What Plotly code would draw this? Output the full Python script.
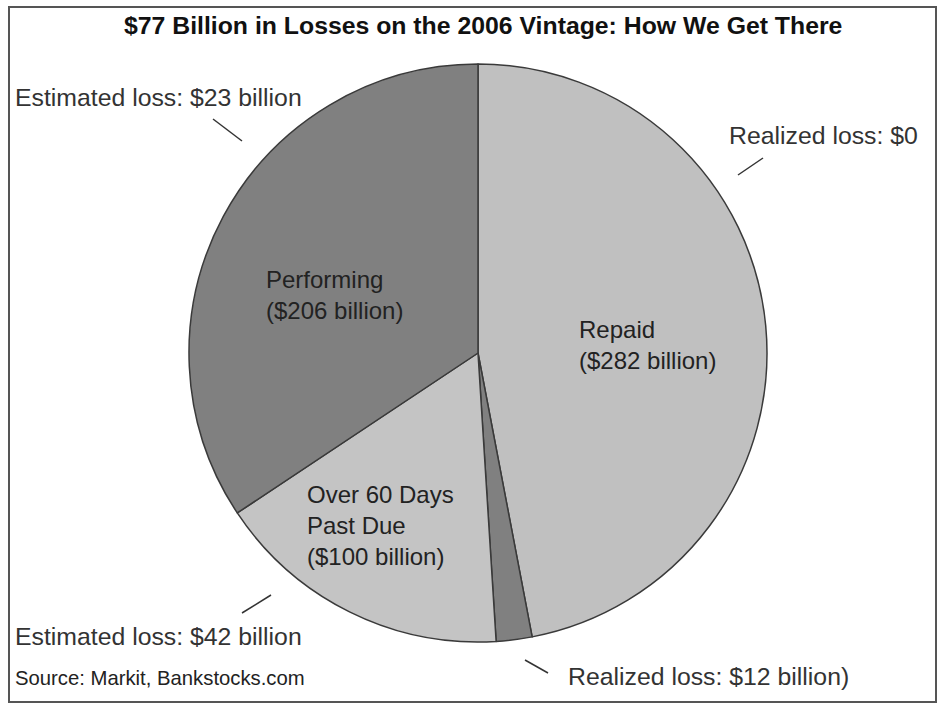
import plotly.graph_objects as go

W, H = 937, 704

segments = ["Repaid", "Realized loss", "Over 60 Days Past Due", "Performing"]
values = [282, 12, 100, 206]
colors = ["#c0c0c0", "#808080", "#c4c4c4", "#808080"]

title_text = "$77 Billion in Losses on the 2006 Vintage: How We Get There"
inner_labels = ["Repaid<br>($282 billion)", "Over 60 Days<br>Past Due<br>($100 billion)",
                "Performing<br>($206 billion)"]
outer_labels = ["Estimated loss: $23 billion", "Realized loss: $0",
                "Estimated loss: $42 billion", "Realized loss: $12 billion)"]
source_text = "Source: Markit, Bankstocks.com"

def px(x):
    return x / W

def py(y):
    return 1 - y / H

FONT = "Liberation Sans, Arial, sans-serif"

fig = go.Figure(go.Pie(
    labels=segments, values=values, sort=False, direction="clockwise", rotation=0,
    marker=dict(colors=colors, line=dict(color="#3a3a3a", width=1.5)),
    textinfo="none", hoverinfo="label+value", showlegend=False,
    domain=dict(x=[px(189), px(767)], y=[py(642), py(64)]),
))

ann = []
ann.append(dict(text=f"<b>{title_text}</b>", x=px(483), y=py(25), xanchor="center", yanchor="middle",
                font=dict(size=24.8, color="#111", family=FONT)))
# inner labels
for txt, (x, y) in zip(inner_labels, [(577, 345), (305, 525), (264, 295)]):
    ann.append(dict(text=txt, x=px(x), y=py(y), xanchor="left", yanchor="middle", align="left",
                    font=dict(size=24, color="#222", family=FONT)))
for txt, (x, y) in zip(outer_labels, [(13, 97), (727, 135), (13, 636), (566, 676)]):
    ann.append(dict(text=txt, x=px(x), y=py(y), xanchor="left", yanchor="middle", align="left",
                    font=dict(size=24.8, color="#333", family=FONT)))
ann.append(dict(text=source_text, x=px(13), y=py(678), xanchor="left", yanchor="middle",
                font=dict(size=20.3, color="#222", family=FONT)))
for a in ann:
    a.update(xref="paper", yref="paper", showarrow=False)

shapes = [dict(type="rect", xref="paper", yref="paper", x0=px(9), x1=px(936), y0=py(702), y1=py(7),
               line=dict(color="#555", width=2))]
for (x0, y0, x1, y1) in [(213, 119, 242, 141), (763, 158, 738, 175), (271, 595, 242, 613), (525, 660, 548, 673)]:
    shapes.append(dict(type="line", xref="paper", yref="paper", x0=px(x0), y0=py(y0), x1=px(x1), y1=py(y1),
                       line=dict(color="#333", width=1.5)))

fig.update_layout(width=W, height=H, margin=dict(l=0, r=0, t=0, b=0),
                  paper_bgcolor="white", plot_bgcolor="white",
                  annotations=ann, shapes=shapes)
fig.write_html("out.html")
